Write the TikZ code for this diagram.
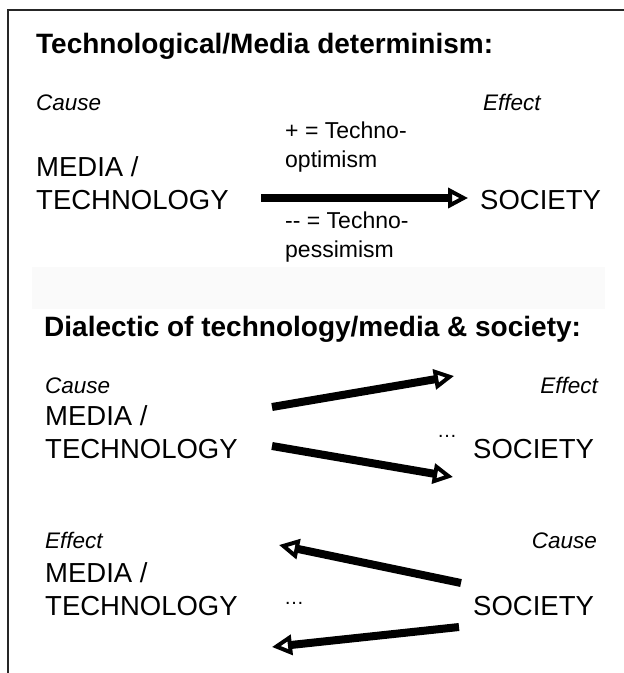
\documentclass[tikz,border=0pt]{standalone}
\usepackage{fontspec}
\setmainfont{Liberation Sans}
\usetikzlibrary{arrows.meta}

\begin{document}
\begin{tikzpicture}[
            x=1pt, y=-1pt,
            title/.style={anchor=base west,inner sep=0pt,font=\fontsize{28}{33}\selectfont\bfseries},
            big/.style={anchor=base west,inner sep=0pt,font=\fontsize{27.5}{33}\selectfont},
            small/.style={anchor=base west,inner sep=0pt,font=\fontsize{23}{29}\selectfont},
            role/.style={anchor=base west,inner sep=0pt,font=\fontsize{22.5}{24}\selectfont\itshape},
            fat/.style={line width=8pt,-{Triangle[open,length=20pt,width=20pt,line width=4pt]}},
        ]
        \useasboundingbox (0, 0) rectangle (624, 673);

        % frame
        \draw[line width=1.5pt,black!85] (624, 10) -- (8, 10) -- (8, 673);
        \fill[black!2] (32, 267) rectangle (605, 309);

        % determinism
        \node[title] (T1) at (36, 53) {Technological/Media determinism:};
        \node[role] (C1) at (36, 110) {Cause};
        \node[role] (E1) at (483, 110) {Effect};
        \node[big] (M1) at (36, 176) {MEDIA /};
        \node[big] (N1) at (36, 209) {TECHNOLOGY};
        \node[big] (S1) at (480, 209) {SOCIETY};
        \node[small] (P1) at (285, 138) {+ = Techno-};
        \node[small] (P2) at (285, 167) {optimism};
        \node[small] (P3) at (285, 228) {{-}{-} = Techno-};
        \node[small] (P4) at (285, 257) {pessimism};
        \coordinate (a1) at (261, 198);
        \coordinate (b1) at (468, 198);
        \draw[fat] (a1) -- (b1);

        % dialectic
        \node[title] (T2) at (44, 336) {Dialectic of technology/media \& society:};
        \node[role] (C2) at (45, 393) {Cause};
        \node[role,anchor=base east] (E2) at (598, 393) {Effect};
        \node[big] (M2) at (45, 425) {MEDIA /};
        \node[big] (N2) at (45, 458) {TECHNOLOGY};
        \node[big] (S2) at (473, 458) {SOCIETY};
        \node[small,font=\fontsize{20}{24}\selectfont] (D2) at (437, 437) {…};
        \coordinate (a2) at (272, 407);
        \coordinate (b2) at (454, 376);
        \coordinate (a3) at (272, 446);
        \coordinate (b3) at (453, 477);
        \draw[fat] (a2) -- (b2);
        \draw[fat] (a3) -- (b3);

        \node[role] (E3) at (45, 548) {Effect};
        \node[role,anchor=base east] (C3) at (597, 548) {Cause};
        \node[big] (M3) at (45, 582) {MEDIA /};
        \node[big] (N3) at (45, 615) {TECHNOLOGY};
        \node[big] (S3) at (473, 615) {SOCIETY};
        \node[small,font=\fontsize{20}{24}\selectfont] (D3) at (284, 604) {…};
        \coordinate (a4) at (461, 583);
        \coordinate (b4) at (279, 545);
        \coordinate (a5) at (459, 627);
        \coordinate (b5) at (272, 647);
        \draw[fat] (a4) -- (b4);
        \draw[fat] (a5) -- (b5);
    \end{tikzpicture}
\end{document}
